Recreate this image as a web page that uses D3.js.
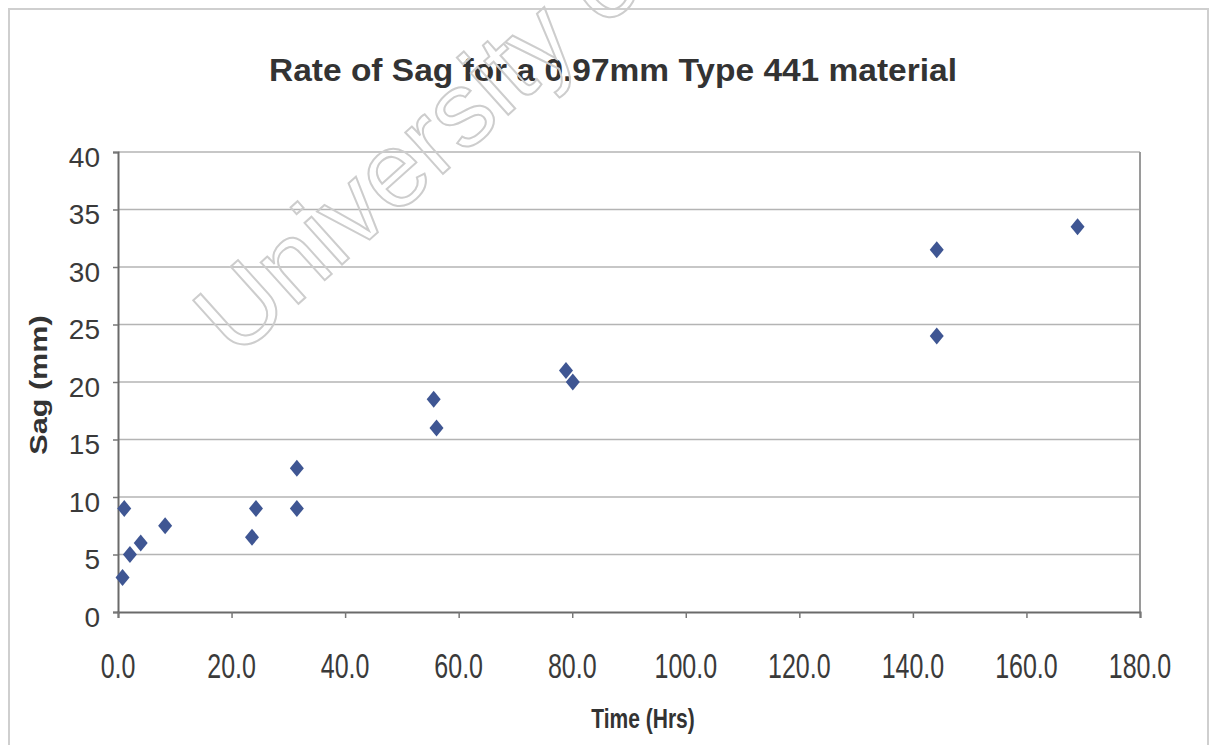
<!DOCTYPE html>
<html>
<head>
<meta charset="utf-8">
<script src="https://cdn.jsdelivr.net/npm/d3@7"></script>
<style>
  html, body { margin: 0; padding: 0; background: #fff; }
  svg { display: block; font-family: "Liberation Sans", Arial, sans-serif; }
</style>
</head>
<body>
<div id="chart"></div>
<script>
// data
const timeHrs = [0.8, 1.1, 2.1, 4.0, 8.3, 23.6, 24.3, 31.5, 31.5, 55.6, 56.1, 78.9, 80.1, 144.2, 144.2, 169.0];
const sagMm   = [3.0, 9.0, 5.0, 6.0, 7.5, 6.5, 9.0, 12.5, 9.0, 18.5, 16.0, 21.0, 20.0, 31.5, 24.0, 33.5];
const xTicks = [0, 20, 40, 60, 80, 100, 120, 140, 160, 180];
const yTicks = [0, 5, 10, 15, 20, 25, 30, 35, 40];

const W = 1217, H = 745;
const plot = { left: 118, right: 1140, top: 152, bottom: 612 };

const svg = d3.select("#chart").append("svg")
  .attr("width", W)
  .attr("height", H);

// faint outer chart frame
svg.append("rect")
  .attr("x", 9).attr("y", 9)
  .attr("width", 1199).attr("height", 780)
  .attr("fill", "none")
  .attr("stroke", "#cfcfcf")
  .attr("stroke-width", 2);

const x = d3.scaleLinear().domain([0, 180]).range([plot.left, plot.right]);
const y = d3.scaleLinear().domain([0, 40]).range([plot.bottom, plot.top]);

// gridlines
svg.append("g")
  .selectAll("line")
  .data(yTicks.filter(d => d > 0))
  .enter().append("line")
  .attr("x1", plot.left).attr("x2", plot.right)
  .attr("y1", d => y(d)).attr("y2", d => y(d))
  .attr("stroke", "#b4b4b4")
  .attr("stroke-width", 1.5);

// plot border (right side)
svg.append("line")
  .attr("x1", plot.right).attr("x2", plot.right)
  .attr("y1", plot.top).attr("y2", plot.bottom)
  .attr("stroke", "#9a9a9a")
  .attr("stroke-width", 2);

// axes
const yAxis = svg.append("g")
  .attr("transform", `translate(${plot.left},0)`)
  .call(d3.axisLeft(y).tickValues(yTicks).tickSize(5).tickFormat(""));
const xAxis = svg.append("g")
  .attr("transform", `translate(0,${plot.bottom})`)
  .call(d3.axisBottom(x).tickValues(xTicks).tickSize(6).tickFormat(""));

[yAxis, xAxis].forEach(g => {
  g.select(".domain").attr("stroke", "#6a6a6a").attr("stroke-width", 2);
  g.selectAll(".tick line").attr("stroke", "#777").attr("stroke-width", 1.5);
});

// y tick labels
svg.append("g")
  .selectAll("text")
  .data(yTicks)
  .enter().append("text")
  .attr("x", 100)
  .attr("y", d => y(d) + 5)
  .attr("text-anchor", "end")
  .attr("dominant-baseline", "central")
  .style("font-size", "28px")
  .style("fill", "#3a3a3a")
  .text(d3.format("d"));

// x tick labels (scan makes them tall and narrow)
svg.append("g")
  .selectAll("text")
  .data(xTicks)
  .enter().append("text")
  .attr("transform", d => `translate(${x(d)},666) scale(1,1.38)`)
  .attr("text-anchor", "middle")
  .attr("dominant-baseline", "central")
  .style("font-size", "25px")
  .style("fill", "#3a3a3a")
  .text(d3.format(".1f"));

// diamonds
const diamond = {
  draw(ctx, size) {
    const w = 7, h = 8.5;
    ctx.moveTo(0, -h);
    ctx.lineTo(w, 0);
    ctx.lineTo(0, h);
    ctx.lineTo(-w, 0);
    ctx.closePath();
  }
};

svg.append("g")
  .selectAll("path")
  .data(d3.zip(timeHrs, sagMm))
  .enter().append("path")
  .attr("transform", d => `translate(${x(d[0])},${y(d[1])})`)
  .attr("d", d3.symbol().type(diamond))
  .attr("fill", "#3f5693");

// title and axis titles
svg.append("text")
  .attr("x", 613).attr("y", 81)
  .attr("text-anchor", "middle")
  .attr("textLength", 688)
  .attr("lengthAdjust", "spacingAndGlyphs")
  .style("font-size", "31px")
  .style("font-weight", "bold")
  .style("fill", "#333")
  .text("Rate of Sag for a 0.97mm Type 441 material");

svg.append("text")
  .attr("transform", "translate(643,718) scale(1,1.3)")
  .attr("text-anchor", "middle")
  .attr("dominant-baseline", "central")
  .style("font-size", "21px")
  .style("font-weight", "bold")
  .style("fill", "#333")
  .text("Time (Hrs)");

svg.append("text")
  .attr("transform", "translate(39,385) rotate(-90) scale(1.33,1)")
  .attr("text-anchor", "middle")
  .attr("dominant-baseline", "central")
  .style("font-size", "23px")
  .style("font-weight", "bold")
  .style("fill", "#333")
  .text("Sag (mm)");

// scanned-page watermark (runs off the top edge as in the scan)
svg.append("text")
  .attr("transform", "translate(236,360) rotate(-42)")
  .style("font-size", "106px")
  .style("fill", "none")
  .style("stroke", "#cdcdcd")
  .style("stroke-width", 2)
  .text("University of");
</script>
</body>
</html>
